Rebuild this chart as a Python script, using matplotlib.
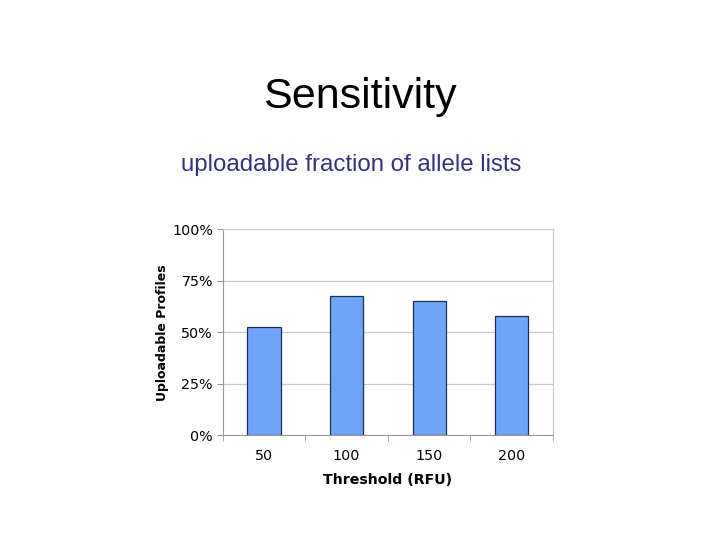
import matplotlib
matplotlib.use("Agg")
import matplotlib.pyplot as plt
import numpy as np

categories = ["50", "100", "150", "200"]
values = [0.524, 0.676, 0.652, 0.578]
yticks = [0, 0.25, 0.5, 0.75, 1.0]
ytick_labels = ["0%", "25%", "50%", "75%", "100%"]

fig = plt.figure(figsize=(7.2, 5.4), dpi=100)
fig.patch.set_facecolor("white")

fig.text(0.5, 1 - 97 / 540, "Sensitivity", ha="center", va="center",
         fontsize=31, family="Liberation Sans", color="black")
fig.text(351 / 720, 1 - 165 / 540, "uploadable fraction of allele lists", ha="center",
         va="center", fontsize=17.3, family="Liberation Sans", color="#333380")

ax = fig.add_axes([222.7 / 720, 1 - 435.3 / 540, (553 - 222.7) / 720, (435.3 - 229.3) / 540])
x = np.arange(len(categories))
ax.bar(x, values, width=0.40, color="#6FA5F8", edgecolor="#1C2F4F", linewidth=0.9, zorder=3)
ax.set_xlim(-0.5, len(categories) - 0.5)
ax.set_ylim(0, 1)
ax.set_yticks(yticks)
ax.set_yticklabels(ytick_labels)
ax.set_xticks(x)
ax.set_xticklabels(categories)
ax.set_xticks(np.arange(len(categories) + 1) - 0.5, minor=True)
ax.tick_params(axis="x", which="major", length=0, pad=10, labelsize=10.3)
ax.tick_params(axis="x", which="minor", length=4, color="#999999")
ax.tick_params(axis="y", length=4, color="#999999", labelsize=10.3, pad=3)
ax.yaxis.grid(True, color="#C8C8C8", linewidth=0.9, zorder=0)
for side in ["top", "right"]:
    ax.spines[side].set_color("#C8C8C8")
for side in ["left", "bottom"]:
    ax.spines[side].set_color("#999999")
ax.set_xlabel("Threshold (RFU)", fontweight="bold", fontsize=10.2, labelpad=7)
ax.set_ylabel("Uploadable Profiles", fontweight="bold", fontsize=9, labelpad=2)

fig.savefig("out.png", dpi=100)
